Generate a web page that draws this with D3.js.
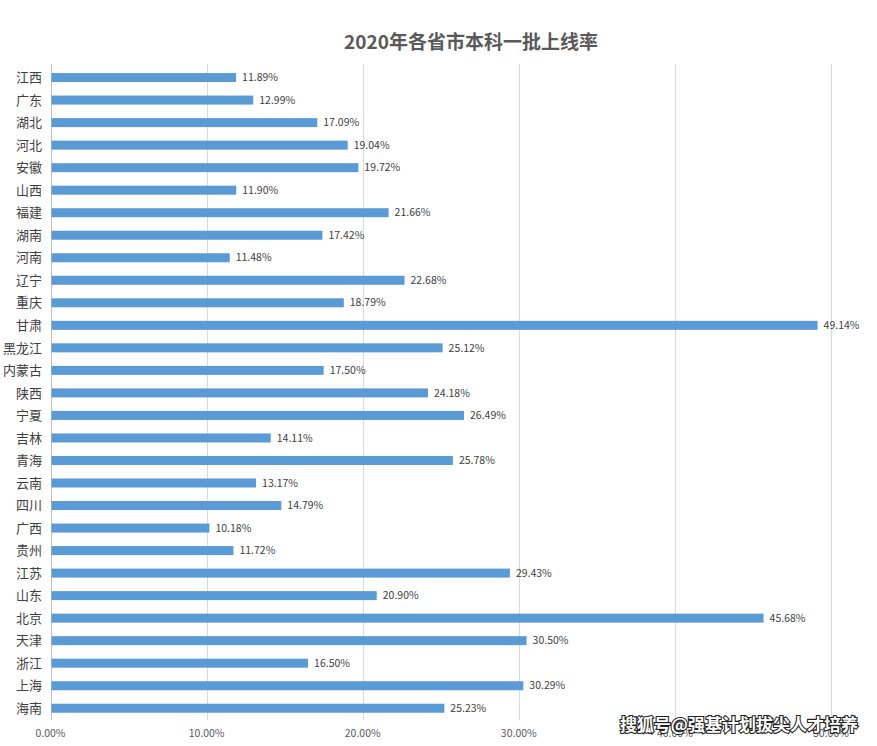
<!DOCTYPE html>
<html><head><meta charset="utf-8">
<script src="https://cdn.jsdelivr.net/npm/d3@7"></script>
<style>body{margin:0;background:#fff;}svg{display:block;font-family:"Noto Sans CJK SC","Microsoft YaHei",sans-serif;}</style>
</head><body>
<svg id="c" width="877" height="746"></svg>
<script>
const title = "2020年各省市本科一批上线率";
const provinces = ["江西","广东","湖北","河北","安徽","山西","福建","湖南","河南","辽宁","重庆","甘肃","黑龙江","内蒙古","陕西","宁夏","吉林","青海","云南","四川","广西","贵州","江苏","山东","北京","天津","浙江","上海","海南"];
const rates = [11.89,12.99,17.09,19.04,19.72,11.90,21.66,17.42,11.48,22.68,18.79,49.14,25.12,17.50,24.18,26.49,14.11,25.78,13.17,14.79,10.18,11.72,29.43,20.90,45.68,30.50,16.50,30.29,25.23];
const ticks = [0,10,20,30,40,50];
const watermark = "搜狐号@强基计划拔尖人才培养";

const svg = d3.select("#c");
const x = d3.scaleLinear().domain([0,50]).range([50.5,831]);
const y = d3.scaleBand().domain(provinces).range([66.3,719.5]).paddingInner(0.6).paddingOuter(0.3);

svg.append("text").attr("x",471).attr("y",49).attr("text-anchor","middle")
  .attr("font-size",19).attr("font-weight","bold").attr("fill","#595959").text(title);

const grid = svg.append("g");
grid.selectAll("line").data(ticks).join("line")
  .attr("x1",d=>Math.round(x(d))+0.5).attr("x2",d=>Math.round(x(d))+0.5)
  .attr("y1",64).attr("y2",720)
  .attr("stroke",d=>d===0?"#bfbfbf":"#d9d9d9").attr("stroke-width",1);

svg.append("g").selectAll("text").data(ticks).join("text")
  .attr("x",d=>x(d)).attr("y",737).attr("text-anchor","middle")
  .attr("font-size",10.5).attr("fill","#595959").text(d=>d3.format(".2f")(d)+"%");

svg.append("g").selectAll("rect").data(provinces).join("rect")
  .attr("x",x(0)+1).attr("y",d=>y(d)).attr("height",y.bandwidth())
  .attr("width",(d,i)=>x(rates[i])-x(0)-1).attr("fill","#5B9BD5");

svg.append("g").selectAll("text").data(provinces).join("text")
  .attr("x",(d,i)=>x(rates[i])+6).attr("y",d=>y(d)+y.bandwidth()/2)
  .attr("dy","0.35em").attr("font-size",10.5).attr("fill","#404040")
  .text((d,i)=>rates[i].toFixed(2)+"%");

svg.append("g").selectAll("text").data(provinces).join("text")
  .attr("x",42).attr("y",d=>y(d)+y.bandwidth()/2).attr("dy","0.36em")
  .attr("text-anchor","end").attr("font-size",13).attr("fill","#404040").text(d=>d);

svg.append("text").attr("x",858).attr("y",731).attr("text-anchor","end")
  .attr("font-size",17).attr("font-weight","bold").attr("fill","#fff")
  .attr("stroke","#222").attr("stroke-width",2.2).attr("paint-order","stroke")
  .text(watermark);
</script>
</body></html>
